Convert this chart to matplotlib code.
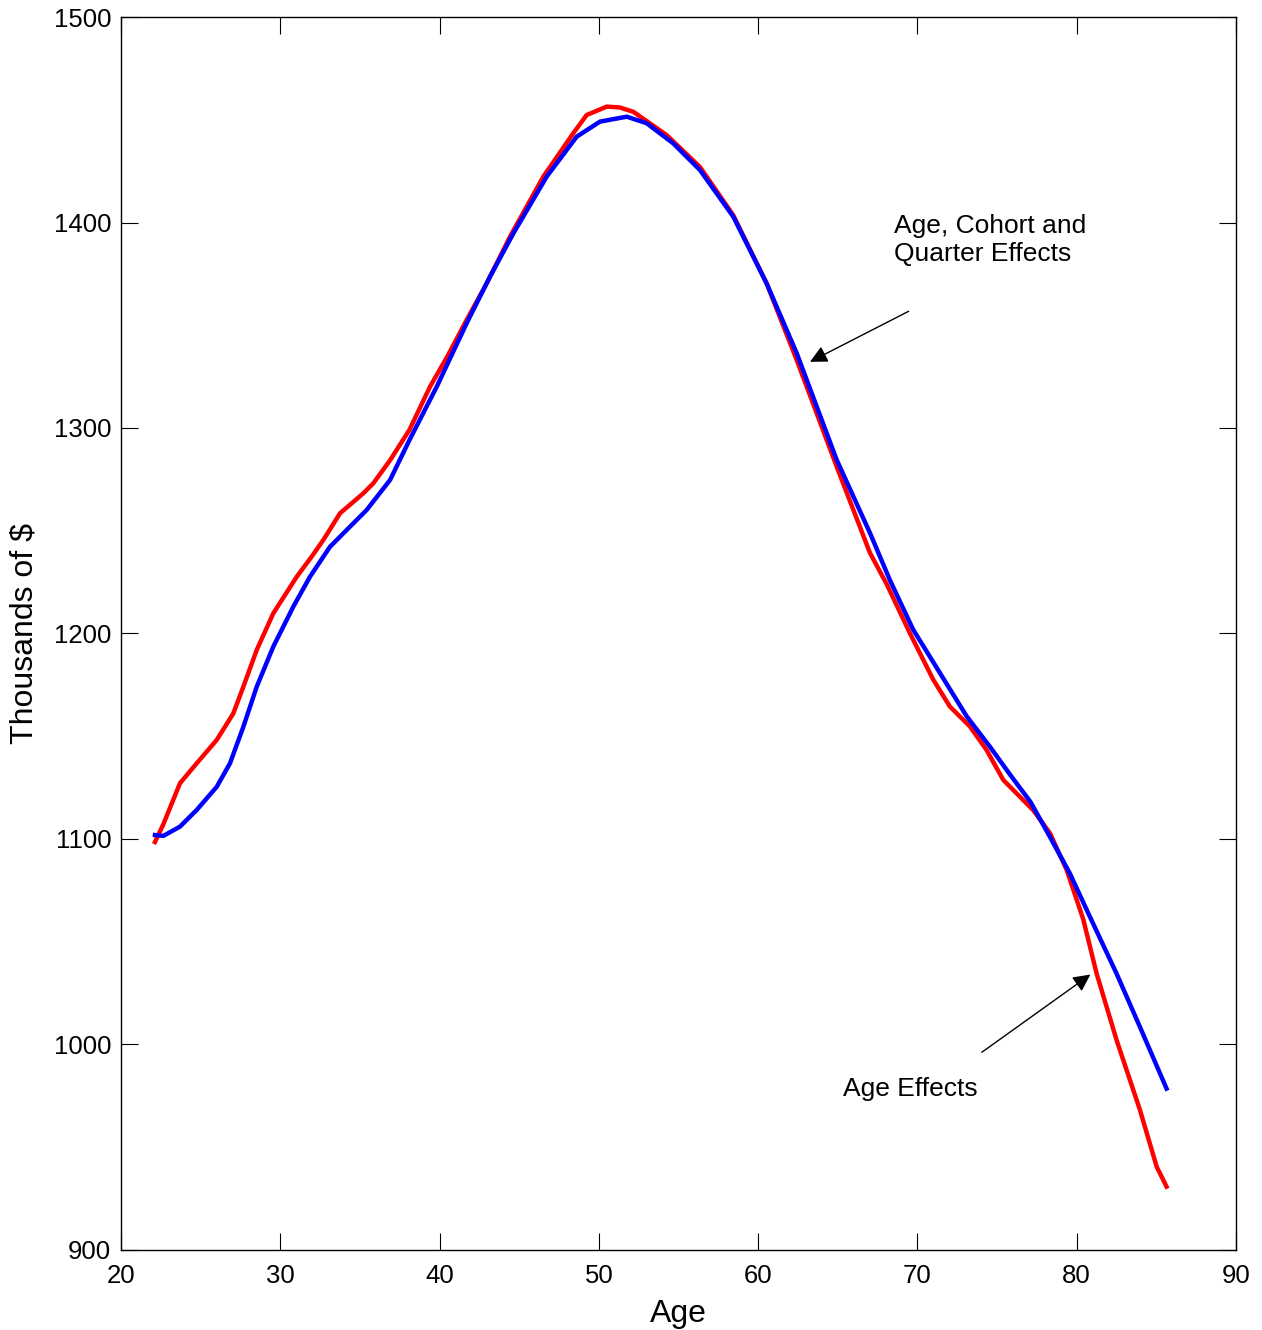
import matplotlib
matplotlib.use('Agg')
import matplotlib.pyplot as plt

plt.rcParams['font.family'] = ['Liberation Sans', 'DejaVu Sans']

# age effects only (red)
age_red = [22.13, 22.66, 23.70, 24.75, 26.01, 27.05, 27.68, 28.52, 29.56, 31.03,
           31.97, 32.70, 33.75, 35.21, 35.84, 36.9, 38.1, 39.40, 40.5, 41.70, 42.96,
           44.42, 46.51, 48.39, 49.23, 50.49, 51.3, 52.16, 54.26, 56.35, 58.44,
           60.53, 62.42, 64.93, 67.02, 68.07, 69.53, 71.0, 72.04, 73.30, 74.34,
           75.39, 77.27, 78.32, 79.37, 80.41, 81.25, 82.50, 83.97, 85.02, 85.64]
val_red = [1098.5, 1107.2, 1127.1, 1136.8, 1148.2, 1161.1, 1174.1, 1192, 1209.8,
           1227.6, 1237.4, 1245.5, 1258.5, 1268.2, 1273.1, 1284.4, 1299, 1320.1, 1335,
           1352.6, 1370.4, 1393.1, 1422.3, 1443.4, 1452.3, 1456.4, 1456.0, 1453.9,
           1442.5, 1427, 1403.5, 1370.4, 1333.1, 1281.2, 1239.2, 1224, 1200.1, 1177.4,
           1164.4, 1154.7, 1143.3, 1128.7, 1114, 1102.8, 1084.9, 1060.9, 1034.5,
           1002.2, 968.1, 940.5, 930.8]

# age, cohort and quarter effects (blue)
age_blue = [22.13, 22.66, 23.70, 24.75, 26.01, 26.84, 27.68, 28.52, 29.56, 30.82,
            31.86, 33.12, 34.17, 35.42, 36.89, 38.1, 39.82, 41.70, 43.16, 44.63,
            46.72, 48.61, 50.07, 51.75, 53.00, 54.67, 56.35, 58.44, 60.53, 62.42,
            64.93, 67.02, 68.27, 69.73, 71.41, 73.09, 74.55, 75.91, 77.1, 78.32,
            79.57, 80.83, 82.50, 83.97, 85.64]
val_blue = [1101.9, 1101.5, 1106, 1114.1, 1125.4, 1136.8, 1154.6, 1174.1, 1193.6,
            1213.1, 1227.6, 1242.2, 1250.4, 1260.1, 1274.7, 1294, 1320.1, 1351,
            1373.6, 1394.7, 1422.3, 1441.8, 1449.1, 1451.5, 1448.3, 1438.5, 1425.5,
            1402.8, 1370.4, 1336.4, 1284.5, 1248.9, 1226, 1201.9, 1180.8, 1159.7,
            1144.9, 1130.3, 1118, 1101, 1083.2, 1062.1, 1034.5, 1008.5, 978.5]

fig = plt.figure(figsize=(12.62, 13.30), dpi=100)
ax = fig.add_axes([0.0959, 0.0602, 0.8835, 0.927])

ax.plot(age_red, val_red, color='#ff0000', lw=3.2, solid_joinstyle='round')
ax.plot(age_blue, val_blue, color='#0000ff', lw=3.2, solid_joinstyle='round')

ax.set_xlim(20, 90)
ax.set_ylim(900, 1500)
ax.set_xticks(range(20, 91, 10))
ax.set_yticks(range(900, 1501, 100))
ax.tick_params(direction='in', length=12, width=0.8, labelsize=18.5,
               top=True, right=True)
ax.tick_params(axis='x', pad=10)
ax.tick_params(axis='y', pad=7)
for s in ax.spines.values():
    s.set_linewidth(1.0)

ax.set_xlabel('Age', fontsize=23, labelpad=8)
ax.set_ylabel('Thousands of $', fontsize=23, labelpad=10)

arrow = dict(arrowstyle='-|>', color='black', lw=1.0, mutation_scale=26)
ax.annotate('', xy=(63.1, 1331.6), xytext=(69.6, 1357.4), arrowprops=arrow)
ax.annotate('', xy=(81.0, 1034.8), xytext=(73.9, 995.4), arrowprops=arrow)
ax.text(68.5, 1404, 'Age, Cohort and\nQuarter Effects', fontsize=19,
        va='top', ha='left', linespacing=1.2)
ax.text(65.3, 984, 'Age Effects', fontsize=19, va='top', ha='left')

fig.savefig('out.png', dpi=100)
